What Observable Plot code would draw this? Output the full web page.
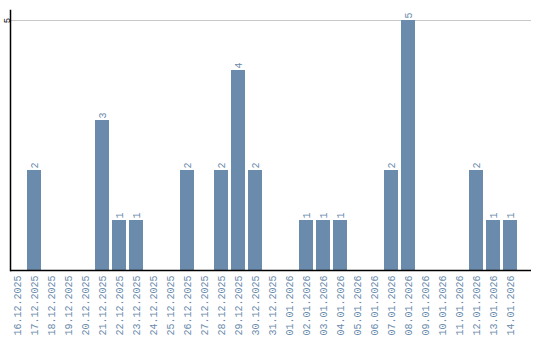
<!DOCTYPE html>
<html><head><meta charset="utf-8">
<script src="https://cdn.jsdelivr.net/npm/d3@7"></script>
<script src="https://cdn.jsdelivr.net/npm/@observablehq/plot@0.6"></script>
<style>body{margin:0;background:#fff}</style>
</head><body><div id="chart"></div>
<script>
const dates = ["16.12.2025","17.12.2025","18.12.2025","19.12.2025","20.12.2025","21.12.2025","22.12.2025","23.12.2025","24.12.2025","25.12.2025","26.12.2025","27.12.2025","28.12.2025","29.12.2025","30.12.2025","31.12.2025","01.01.2026","02.01.2026","03.01.2026","04.01.2026","05.01.2026","06.01.2026","07.01.2026","08.01.2026","09.01.2026","10.01.2026","11.01.2026","12.01.2026","13.01.2026","14.01.2026"];
const counts = [0,2,0,0,0,3,1,1,0,0,2,0,2,4,2,0,0,1,1,1,0,0,2,5,0,0,0,2,1,1];
const yTicks = [5];

const data = dates.map((d,i)=>({date:d, count:counts[i]}));
const nonzero = data.filter(d=>d.count>0);
const col = "#6a8bab";
const font = "'Liberation Mono','DejaVu Sans Mono',monospace";

const chart = Plot.plot({
  width: 540, height: 340,
  marginLeft: 10, marginRight: 9, marginTop: 10, marginBottom: 70,
  style: {fontFamily: font, fontSize: "10px", background: "#fff"},
  x: {domain: dates, paddingInner: 3/17, paddingOuter: 0.41176, align: 0, round: false, label: null},
  y: {domain: [0, 5.2], label: null},
  marks: [
    Plot.ruleY(yTicks, {stroke: "#c8c8c8", strokeWidth: 1}),
    Plot.barY(data, {x: "date", y: "count", fill: col}),
    Plot.text(nonzero, {x: "date", y: "count", text: d => String(d.count), rotate: -90, textAnchor: "start", dy: -2, fill: col, fontSize: 10}),
    Plot.axisX({tickSize: 0, tickPadding: 5, tickRotate: -90, fill: col, fontSize: 10, label: null}),
    Plot.axisY({ticks: yTicks, tickFormat: "d", tickSize: 0, tickPadding: 1, tickRotate: -90, fill: "#000", fontSize: 9, label: null}),
    Plot.ruleY([0], {stroke: "#000", strokeWidth: 1.5}),
    Plot.frame({anchor: "left", stroke: "#000", strokeWidth: 1.5})
  ]
});
document.getElementById("chart").appendChild(chart);
</script></body></html>
